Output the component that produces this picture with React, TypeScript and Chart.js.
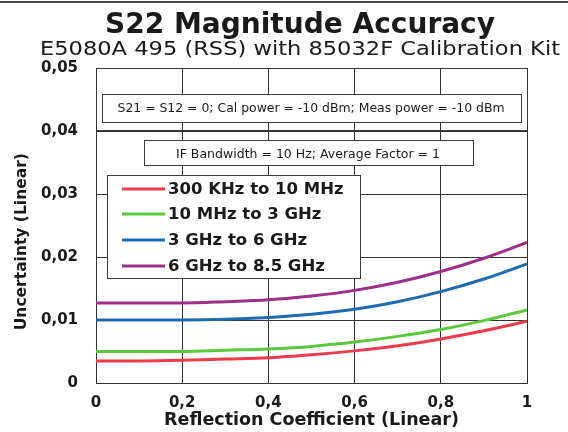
import React, { useEffect, useRef } from "react";
import { Chart, registerables } from "chart.js";

Chart.register(...registerables);

// ---- Data ----
const reflection = [0, 0.1, 0.2, 0.3, 0.4, 0.5, 0.6, 0.7, 0.8, 0.9, 1.0];
const band300kTo10M = [0.0035, 0.0035, 0.0036, 0.0038, 0.004, 0.0045, 0.0051, 0.0059, 0.007, 0.0083, 0.0098];
const band10MTo3G = [0.005, 0.005, 0.005, 0.0052, 0.0054, 0.0058, 0.0065, 0.0074, 0.0085, 0.0099, 0.0116];
const band3GTo6G = [0.01, 0.01, 0.01, 0.0101, 0.0104, 0.0109, 0.0117, 0.0129, 0.0145, 0.0165, 0.0189];
const band6GTo85G = [0.0127, 0.0127, 0.0127, 0.0129, 0.0132, 0.0138, 0.0147, 0.016, 0.0177, 0.0198, 0.0223];

const seriesLabels = ["300 KHz to 10 MHz", "10 MHz to 3 GHz", "3 GHz to 6 GHz", "6 GHz to 8.5 GHz"];
const seriesColors = ["#ee3b4b", "#5cc93c", "#1e6bb0", "#9c2f8a"];

const xTickLabels = ["0", "0,2", "0,4", "0,6", "0,8", "1"];
const yTickLabels = ["0", "0,01", "0,02", "0,03", "0,04", "0,05"];

const titleText = "S22 Magnitude Accuracy";
const subtitleText = "E5080A 495 (RSS) with 85032F Calibration Kit";
const note1Text = "S21 = S12 = 0; Cal power = -10 dBm; Meas power = -10 dBm";
const note2Text = "IF Bandwidth = 10 Hz; Average Factor = 1";
const xTitleText = "Reflection Coefficient (Linear)";
const yTitleText = "Uncertainty (Linear)";

const FONT = '"DejaVu Sans", sans-serif';

function drawFitted(ctx: CanvasRenderingContext2D, text: string, cx: number, baseline: number, font: string, width: number) {
  ctx.save();
  ctx.font = font;
  ctx.textAlign = "center";
  ctx.textBaseline = "alphabetic";
  const w = ctx.measureText(text).width;
  const sx = width / w;
  ctx.translate(cx, baseline);
  ctx.scale(sx, 1);
  ctx.fillText(text, 0, 0);
  ctx.restore();
}

const decorPlugin = {
  id: "decor",
  afterDatasetsDraw(chart: any) {
    const ctx: CanvasRenderingContext2D = chart.ctx;
    ctx.save();
    // top rule
    ctx.fillStyle = "#444";
    ctx.fillRect(0, 1, 568, 2);

    // note boxes
    const box = (x1: number, y1: number, x2: number, y2: number) => {
      ctx.fillStyle = "#ffffff";
      ctx.fillRect(x1, y1, x2 - x1, y2 - y1);
      ctx.strokeStyle = "#3a3a3a";
      ctx.lineWidth = 1;
      ctx.strokeRect(x1 + 0.5, y1 + 0.5, x2 - x1, y2 - y1);
    };
    box(102, 94, 521, 122);
    ctx.fillStyle = "#1a1a1a";
    drawFitted(ctx, note1Text, 311, 112, `11.5px ${FONT}`, 387);
    box(144, 140, 473, 165);
    ctx.fillStyle = "#1a1a1a";
    drawFitted(ctx, note2Text, 308, 158, `11.5px ${FONT}`, 264);

    // legend
    box(107, 175, 360, 278);
    const rows = [189, 214, 240, 266];
    chart.data.datasets.forEach((ds: any, i: number) => {
      const y = rows[i];
      ctx.strokeStyle = ds.borderColor;
      ctx.lineWidth = 3;
      ctx.beginPath();
      ctx.moveTo(122, y);
      ctx.lineTo(165, y);
      ctx.stroke();
      ctx.fillStyle = "#1a1a1a";
      ctx.font = `bold 16.5px ${FONT}`;
      ctx.textAlign = "left";
      ctx.textBaseline = "middle";
      ctx.fillText(ds.label, 168, y + 1);
    });
    ctx.restore();
  },
  afterDraw(chart: any) {
    const ctx: CanvasRenderingContext2D = chart.ctx;
    ctx.save();
    ctx.fillStyle = "#1a1a1a";
    drawFitted(ctx, titleText, 300, 33, `bold 28px ${FONT}`, 390);
    drawFitted(ctx, subtitleText, 300, 55, `19px ${FONT}`, 520);
    ctx.restore();
  },
};

export default function App() {
  const canvasRef = useRef<HTMLCanvasElement | null>(null);

  useEffect(() => {
    if (!canvasRef.current) return;
    const series = [band300kTo10M, band10MTo3G, band3GTo6G, band6GTo85G];
    const chart = new Chart(canvasRef.current, {
      type: "line",
      data: {
        datasets: series.map((vals, i) => ({
          label: seriesLabels[i],
          data: reflection.map((x, j) => ({ x, y: vals[j] })),
          borderColor: seriesColors[i],
          backgroundColor: seriesColors[i],
          borderWidth: 3,
          pointRadius: 0,
          cubicInterpolationMode: "monotone" as const,
          fill: false,
        })),
      },
      options: {
        animation: false,
        responsive: true,
        maintainAspectRatio: false,
        layout: { padding: { top: 68, right: 41, left: 0, bottom: 0 } },
        plugins: {
          legend: { display: false },
          title: { display: false },
          tooltip: { enabled: false },
        },
        scales: {
          x: {
            type: "linear",
            min: 0,
            max: 1,
            afterFit: (scale: any) => {
              scale.height = 49;
            },
            ticks: {
              stepSize: 0.2,
              color: "#1a1a1a",
              padding: 11,
              font: { family: FONT, size: 15, weight: "bold" },
              callback: (_v: any, i: number) => xTickLabels[i],
            },
            grid: { color: "#333333", lineWidth: 1, drawTicks: false },
            border: { color: "#333333", width: 1 },
            title: {
              display: true,
              text: xTitleText,
              color: "#1a1a1a",
              font: { family: FONT, size: 17.5, weight: "bold" },
              padding: { top: 0, bottom: 1.5 },
            },
          },
          y: {
            type: "linear",
            min: 0,
            max: 0.05,
            afterFit: (scale: any) => {
              scale.width = 96;
            },
            ticks: {
              stepSize: 0.01,
              color: "#1a1a1a",
              padding: 18,
              font: { family: FONT, size: 15, weight: "bold" },
              callback: (_v: any, i: number) => yTickLabels[i],
            },
            grid: {
              color: "#333333",
              lineWidth: (c: any) => (c.index === 4 ? 2 : 1),
              drawTicks: false,
            },
            border: { color: "#333333", width: 1 },
            title: {
              display: true,
              text: yTitleText + "\u00a0\u00a0\u00a0\u00a0\u00a0\u00a0",
              color: "#1a1a1a",
              font: { family: FONT, size: 15.5, weight: "bold" },
              padding: { top: 13, bottom: 0 },
            },
          },
        },
      },
      plugins: [decorPlugin],
    } as any);
    return () => chart.destroy();
  }, []);

  return (
    <div style={{ position: "absolute", left: 0, top: 0, width: 568, height: 432, background: "#fff" }}>
      <canvas ref={canvasRef} />
    </div>
  );
}
